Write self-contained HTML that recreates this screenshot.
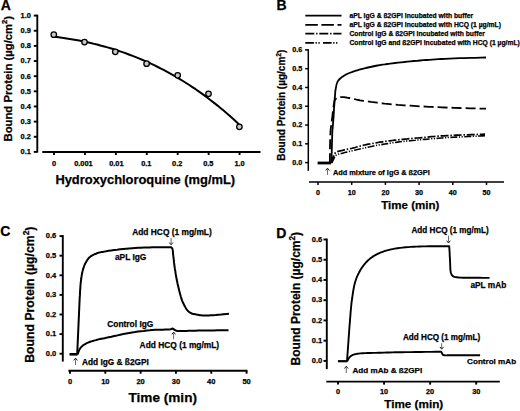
<!DOCTYPE html>
<html><head><meta charset="utf-8"><style>
html,body{margin:0;padding:0;background:#fff;}
svg{display:block;}
text{font-family:"Liberation Sans",sans-serif;font-weight:bold;fill:#000;stroke:#000;stroke-width:0.25px;}
</style></head><body>
<svg width="520" height="411" viewBox="0 0 520 411">
<rect width="520" height="411" fill="#fff"/>
<text x="0.7" y="9.5" font-size="14">A</text>
<line x1="37.3" y1="14.65" x2="37.3" y2="152.6" stroke="#000" stroke-width="1.9"/>
<line x1="33.8" y1="15.6" x2="37.3" y2="15.6" stroke="#000" stroke-width="1.9"/>
<text x="30.8" y="18.04" font-size="7.4" text-anchor="end">1.0</text>
<line x1="33.8" y1="30.74" x2="37.3" y2="30.74" stroke="#000" stroke-width="1.9"/>
<text x="30.8" y="33.19" font-size="7.4" text-anchor="end">0.9</text>
<line x1="33.8" y1="45.89" x2="37.3" y2="45.89" stroke="#000" stroke-width="1.9"/>
<text x="30.8" y="48.33" font-size="7.4" text-anchor="end">0.8</text>
<line x1="33.8" y1="61.03" x2="37.3" y2="61.03" stroke="#000" stroke-width="1.9"/>
<text x="30.8" y="63.48" font-size="7.4" text-anchor="end">0.7</text>
<line x1="33.8" y1="76.18" x2="37.3" y2="76.18" stroke="#000" stroke-width="1.9"/>
<text x="30.8" y="78.62" font-size="7.4" text-anchor="end">0.6</text>
<line x1="33.8" y1="91.32" x2="37.3" y2="91.32" stroke="#000" stroke-width="1.9"/>
<text x="30.8" y="93.76" font-size="7.4" text-anchor="end">0.5</text>
<line x1="33.8" y1="106.47" x2="37.3" y2="106.47" stroke="#000" stroke-width="1.9"/>
<text x="30.8" y="108.91" font-size="7.4" text-anchor="end">0.4</text>
<line x1="33.8" y1="121.61" x2="37.3" y2="121.61" stroke="#000" stroke-width="1.9"/>
<text x="30.8" y="124.05" font-size="7.4" text-anchor="end">0.3</text>
<line x1="33.8" y1="136.76" x2="37.3" y2="136.76" stroke="#000" stroke-width="1.9"/>
<text x="30.8" y="139.2" font-size="7.4" text-anchor="end">0.2</text>
<line x1="33.8" y1="151.9" x2="37.3" y2="151.9" stroke="#000" stroke-width="1.9"/>
<text x="30.8" y="154.34" font-size="7.4" text-anchor="end">0.1</text>
<line x1="42.3" y1="152" x2="260.5" y2="152" stroke="#000" stroke-width="1.9"/>
<line x1="54" y1="152" x2="54" y2="155" stroke="#000" stroke-width="1.9"/>
<text x="54" y="165.8" font-size="7.4" text-anchor="middle">0</text>
<line x1="84.93" y1="152" x2="84.93" y2="155" stroke="#000" stroke-width="1.9"/>
<text x="83.43" y="165.8" font-size="7.4" text-anchor="middle">0.001</text>
<line x1="115.86" y1="152" x2="115.86" y2="155" stroke="#000" stroke-width="1.9"/>
<text x="116.36" y="165.8" font-size="7.4" text-anchor="middle">0.01</text>
<line x1="146.79" y1="152" x2="146.79" y2="155" stroke="#000" stroke-width="1.9"/>
<text x="146.29" y="165.8" font-size="7.4" text-anchor="middle">0.1</text>
<line x1="177.72" y1="152" x2="177.72" y2="155" stroke="#000" stroke-width="1.9"/>
<text x="177.22" y="165.8" font-size="7.4" text-anchor="middle">0.2</text>
<line x1="208.65" y1="152" x2="208.65" y2="155" stroke="#000" stroke-width="1.9"/>
<text x="208.35" y="165.8" font-size="7.4" text-anchor="middle">0.5</text>
<line x1="239.58" y1="152" x2="239.58" y2="155" stroke="#000" stroke-width="1.9"/>
<text x="239.58" y="165.8" font-size="7.4" text-anchor="middle">1.0</text>
<text x="55.4" y="183.9" font-size="12.9">Hydroxychloroquine (mg/mL)</text>
<text transform="translate(11.7,141.5) rotate(-90)" font-size="11.3">Bound Protein (µg/cm<tspan font-size="7.68" dy="-4.75">2</tspan><tspan dy="4.75">)</tspan></text>
<path d="M54.0,36.6 57.1,37.0 60.3,37.4 63.4,37.9 66.6,38.4 69.7,38.9 72.9,39.4 76.0,40.0 79.2,40.6 82.3,41.2 85.5,41.9 88.6,42.6 91.7,43.3 94.9,44.1 98.0,44.8 101.2,45.7 104.3,46.5 107.5,47.4 110.6,48.3 113.8,49.3 116.9,50.3 120.1,51.4 123.2,52.4 126.4,53.5 129.5,54.7 132.6,55.9 135.8,57.1 138.9,58.4 142.1,59.7 145.2,61.1 148.4,62.5 151.5,63.9 154.7,65.4 157.8,67.0 161.0,68.6 164.1,70.2 167.2,71.9 170.4,73.6 173.5,75.4 176.7,77.2 179.8,79.1 183.0,81.0 186.1,83.0 189.3,85.0 192.4,87.1 195.6,89.2 198.7,91.4 201.9,93.6 205.0,95.9 208.1,98.3 211.3,100.7 214.4,103.1 217.6,105.6 220.7,108.2 223.9,110.8 227.0,113.5 230.2,116.3 233.3,119.1 236.5,122.0 239.6,124.9" fill="none" stroke="#000" stroke-width="2.0" stroke-linejoin="round"/>
<circle cx="53.8" cy="34.7" r="2.75" fill="#c8c8c8" stroke="#000" stroke-width="1.3"/>
<circle cx="84.5" cy="42.1" r="2.75" fill="#c8c8c8" stroke="#000" stroke-width="1.3"/>
<circle cx="115.3" cy="51.8" r="2.75" fill="#c8c8c8" stroke="#000" stroke-width="1.3"/>
<circle cx="146.6" cy="63.7" r="2.75" fill="#c8c8c8" stroke="#000" stroke-width="1.3"/>
<circle cx="177.7" cy="75.3" r="2.75" fill="#c8c8c8" stroke="#000" stroke-width="1.3"/>
<circle cx="208.5" cy="93.8" r="2.75" fill="#c8c8c8" stroke="#000" stroke-width="1.3"/>
<circle cx="239.4" cy="126.8" r="2.75" fill="#c8c8c8" stroke="#000" stroke-width="1.3"/>
<text x="276.6" y="9.6" font-size="14">B</text>
<line x1="305.3" y1="15.6" x2="341.5" y2="15.6" stroke="#000" stroke-width="1.8"/>
<text x="349.4" y="18.1" font-size="6.75">aPL IgG &amp; ß2GPI incubated with buffer</text>
<line x1="305.3" y1="24.8" x2="341.5" y2="24.8" stroke="#000" stroke-width="1.8" stroke-dasharray="12.5,3.6"/>
<text x="349.4" y="27.3" font-size="6.75">aPL IgG &amp; ß2GPI incubated with HCQ (1 µg/mL)</text>
<line x1="305.3" y1="33.7" x2="341.5" y2="33.7" stroke="#000" stroke-width="1.8" stroke-dasharray="9,1.8,1.4,1.8"/>
<text x="349.4" y="36.2" font-size="6.75">Control IgG &amp; ß2GPI incubated with buffer</text>
<line x1="305.3" y1="42.8" x2="338.6" y2="42.8" stroke="#000" stroke-width="1.8" stroke-dasharray="8.6,1.6,1.3,1.6,1.3,3.3"/>
<text x="349.4" y="45.3" font-size="6.75">Control IgG and ß2GPI incubated with HCQ (1 µg/mL)</text>
<line x1="308.3" y1="49.15" x2="308.3" y2="170.8" stroke="#000" stroke-width="1.5"/>
<line x1="305.1" y1="49.9" x2="308.3" y2="49.9" stroke="#000" stroke-width="1.5"/>
<text x="302.2" y="52.28" font-size="7.2" text-anchor="end">0.6</text>
<line x1="305.1" y1="68.68" x2="308.3" y2="68.68" stroke="#000" stroke-width="1.5"/>
<text x="302.2" y="71.06" font-size="7.2" text-anchor="end">0.5</text>
<line x1="305.1" y1="87.47" x2="308.3" y2="87.47" stroke="#000" stroke-width="1.5"/>
<text x="302.2" y="89.84" font-size="7.2" text-anchor="end">0.4</text>
<line x1="305.1" y1="106.25" x2="308.3" y2="106.25" stroke="#000" stroke-width="1.5"/>
<text x="302.2" y="108.63" font-size="7.2" text-anchor="end">0.3</text>
<line x1="305.1" y1="125.03" x2="308.3" y2="125.03" stroke="#000" stroke-width="1.5"/>
<text x="302.2" y="127.41" font-size="7.2" text-anchor="end">0.2</text>
<line x1="305.1" y1="143.82" x2="308.3" y2="143.82" stroke="#000" stroke-width="1.5"/>
<text x="302.2" y="146.19" font-size="7.2" text-anchor="end">0.1</text>
<line x1="305.1" y1="162.6" x2="308.3" y2="162.6" stroke="#000" stroke-width="1.5"/>
<text x="302.2" y="164.98" font-size="7.2" text-anchor="end">0.0</text>
<line x1="309" y1="181.9" x2="504" y2="181.9" stroke="#000" stroke-width="1.5"/>
<line x1="318" y1="181.9" x2="318" y2="184.9" stroke="#000" stroke-width="1.5"/>
<text x="318" y="195" font-size="7.2" text-anchor="middle">0</text>
<line x1="351.7" y1="181.9" x2="351.7" y2="184.9" stroke="#000" stroke-width="1.5"/>
<text x="351.7" y="195" font-size="7.2" text-anchor="middle">10</text>
<line x1="385.4" y1="181.9" x2="385.4" y2="184.9" stroke="#000" stroke-width="1.5"/>
<text x="385.4" y="195" font-size="7.2" text-anchor="middle">20</text>
<line x1="419.1" y1="181.9" x2="419.1" y2="184.9" stroke="#000" stroke-width="1.5"/>
<text x="419.1" y="195" font-size="7.2" text-anchor="middle">30</text>
<line x1="452.8" y1="181.9" x2="452.8" y2="184.9" stroke="#000" stroke-width="1.5"/>
<text x="452.8" y="195" font-size="7.2" text-anchor="middle">40</text>
<line x1="486.5" y1="181.9" x2="486.5" y2="184.9" stroke="#000" stroke-width="1.5"/>
<text x="486.5" y="195" font-size="7.2" text-anchor="middle">50</text>
<text x="381.3" y="209" font-size="11.5">Time (min)</text>
<text transform="translate(285,160.8) rotate(-90)" font-size="10.0">Bound Protein (µg/cm<tspan font-size="6.8" dy="-4.2">2</tspan><tspan dy="4.2">)</tspan></text>
<line x1="327.5" y1="174.8" x2="327.5" y2="169.35" stroke="#444" stroke-width="0.8"/>
<path d="M325.7,170.5 L327.5,168.2 L329.3,170.5" fill="none" stroke="#000" stroke-width="0.9"/>
<text x="333" y="174.9" font-size="7.35">Add mixture of IgG &amp; ß2GPI</text>
<line x1="317.6" y1="163" x2="331" y2="163" stroke="#000" stroke-width="2.8"/>
<path d="M331.4,163.2 332.3,132.0 332.4,130.4 332.6,128.8 332.7,127.2 332.9,125.7 333.0,124.1 333.1,122.4 333.3,120.8 333.4,119.0 333.6,116.7 333.7,114.2 333.9,111.6 334.0,108.9 334.2,106.3 334.4,103.7 334.5,101.3 334.7,99.0 334.8,97.4 335.0,95.8 335.1,94.3 335.2,92.9 335.3,91.5 335.5,90.1 335.7,88.8 335.9,87.6 336.1,86.7 336.2,85.9 336.4,85.1 336.6,84.4 336.8,83.6 337.0,82.9 337.3,82.3 337.6,81.6 338.0,81.0 338.3,80.5 338.8,80.0 339.2,79.5 339.7,79.0 340.2,78.5 340.8,78.1 341.3,77.6 341.9,77.1 342.6,76.6 343.3,76.2 344.0,75.7 344.7,75.3 345.5,74.8 346.3,74.4 347.1,74.0 348.2,73.5 349.4,73.0 350.6,72.5 351.8,72.1 353.1,71.6 354.5,71.2 355.9,70.7 357.3,70.3 359.3,69.7 361.3,69.2 363.5,68.6 365.8,68.0 368.0,67.5 370.4,67.0 372.7,66.5 375.0,66.0 377.4,65.5 379.8,65.1 382.3,64.7 384.8,64.4 387.3,64.0 389.8,63.7 392.4,63.3 395.0,63.0 398.0,62.6 401.0,62.3 404.2,62.0 407.3,61.6 410.5,61.3 413.7,61.0 416.9,60.8 420.0,60.5 423.1,60.2 426.1,60.0 429.1,59.8 432.1,59.6 435.2,59.4 438.3,59.2 441.6,59.0 445.0,58.8 449.6,58.6 454.5,58.4 459.6,58.2 464.9,58.1 470.2,57.9 475.5,57.8 480.8,57.7 486.0,57.5" fill="none" stroke="#000" stroke-width="1.8" stroke-linejoin="round"/>
<path d="M329.8,163.2 329.9,159.2 329.9,155.1 330.0,150.9 330.0,146.8 330.1,142.7 330.2,138.9 330.3,135.3 330.5,132.0 330.6,130.1 330.8,128.3 331.0,126.7 331.2,125.1 331.4,123.6 331.6,122.1 331.8,120.6 332.0,119.0 332.2,117.5 332.4,116.0 332.6,114.5 332.7,113.0 332.9,111.5 333.1,110.0 333.3,108.5 333.5,107.0 333.6,106.2 333.7,105.4 333.8,104.5 333.9,103.7 334.1,102.9 334.2,102.1 334.4,101.4 334.6,100.8 334.8,100.4 335.0,100.1 335.1,99.7 335.4,99.4 335.6,99.1 335.8,98.9 336.0,98.6 336.3,98.4 336.5,98.2 336.8,98.1 337.0,97.9 337.3,97.8 337.6,97.7 337.9,97.6 338.2,97.5 338.5,97.4 338.9,97.3 339.4,97.2 339.9,97.2 340.4,97.1 341.0,97.1 341.5,97.1 342.1,97.1 342.7,97.1 343.5,97.2 344.4,97.2 345.2,97.4 346.2,97.5 347.1,97.7 348.1,97.8 349.0,98.0 350.0,98.2 351.2,98.4 352.3,98.7 353.5,98.9 354.8,99.2 356.0,99.5 357.3,99.8 358.6,100.0 360.0,100.3 361.7,100.6 363.5,100.9 365.3,101.1 367.2,101.4 369.1,101.6 371.0,101.9 373.0,102.1 375.0,102.4 377.3,102.7 379.7,103.0 382.2,103.3 384.7,103.6 387.2,103.8 389.8,104.1 392.4,104.4 395.0,104.6 398.0,104.9 401.1,105.1 404.2,105.3 407.3,105.5 410.5,105.7 413.7,105.9 416.9,106.1 420.0,106.3 423.1,106.5 426.1,106.6 429.1,106.8 432.1,106.9 435.2,107.1 438.3,107.2 441.6,107.4 445.0,107.5 449.6,107.7 454.5,107.8 459.6,108.0 464.9,108.1 470.2,108.3 475.5,108.4 480.8,108.6 486.0,108.7" fill="none" stroke="#000" stroke-width="1.8" stroke-linejoin="round" stroke-dasharray="10,4"/>
<path d="M331.2,162.8 331.4,162.1 331.6,161.5 331.8,160.8 332.0,160.1 332.3,159.5 332.5,158.8 332.7,158.1 333.0,157.5 333.3,156.9 333.5,156.2 333.8,155.5 334.0,154.9 334.3,154.2 334.7,153.6 335.1,153.1 335.6,152.6 336.3,152.1 337.2,151.7 338.2,151.4 339.2,151.1 340.3,150.8 341.4,150.6 342.5,150.4 343.5,150.1 344.6,149.8 345.6,149.6 346.7,149.4 347.7,149.2 348.8,148.9 349.9,148.7 351.0,148.5 352.2,148.2 353.6,147.8 355.1,147.5 356.6,147.0 358.1,146.6 359.7,146.2 361.3,145.8 362.9,145.4 364.5,145.0 366.3,144.6 368.2,144.2 370.1,143.9 372.0,143.5 374.0,143.2 375.9,142.8 378.0,142.5 380.0,142.2 382.4,141.8 384.8,141.5 387.3,141.1 389.8,140.8 392.4,140.5 394.9,140.2 397.5,139.9 400.0,139.6 402.5,139.3 405.0,139.1 407.5,138.9 410.0,138.6 412.6,138.4 415.1,138.2 417.5,138.0 420.0,137.8 422.3,137.6 424.6,137.4 426.9,137.1 429.2,136.9 431.4,136.7 433.7,136.5 436.1,136.3 438.5,136.1 441.3,135.9 444.2,135.8 447.1,135.6 450.1,135.5 453.1,135.4 456.1,135.2 459.1,135.1 462.0,135.0 464.9,134.9 467.8,134.8 470.6,134.7 473.5,134.6 476.4,134.5 479.3,134.4 482.1,134.3 485.0,134.2" fill="none" stroke="#000" stroke-width="1.7" stroke-linejoin="round" stroke-dasharray="8,1.8,1.5,1.8"/>
<path d="M331.6,163.0 331.8,162.6 332.1,162.1 332.3,161.7 332.5,161.3 332.8,160.8 333.0,160.4 333.3,159.9 333.5,159.5 333.7,159.0 333.9,158.5 334.1,158.0 334.4,157.5 334.6,157.0 334.9,156.5 335.2,156.0 335.6,155.6 336.3,155.1 337.2,154.7 338.1,154.3 339.2,154.0 340.2,153.7 341.4,153.5 342.4,153.2 343.5,152.9 344.6,152.6 345.6,152.3 346.7,152.1 347.8,151.8 348.9,151.6 350.0,151.3 351.1,151.1 352.2,150.8 353.3,150.5 354.3,150.3 355.3,150.0 356.4,149.8 357.4,149.5 358.6,149.3 359.7,149.0 361.0,148.7 363.0,148.3 365.2,147.8 367.6,147.3 370.0,146.8 372.5,146.2 375.0,145.7 377.5,145.2 380.0,144.8 382.5,144.4 385.0,144.0 387.5,143.6 390.0,143.2 392.5,142.8 395.0,142.5 397.5,142.1 400.0,141.8 402.5,141.5 405.0,141.2 407.5,141.0 410.0,140.7 412.6,140.5 415.1,140.3 417.5,140.0 420.0,139.8 422.3,139.6 424.6,139.4 426.9,139.2 429.2,139.0 431.4,138.8 433.7,138.6 436.1,138.4 438.5,138.2 441.3,138.0 444.2,137.8 447.1,137.6 450.1,137.4 453.1,137.3 456.1,137.1 459.1,137.0 462.0,136.8 464.9,136.7 467.8,136.5 470.6,136.4 473.5,136.3 476.4,136.2 479.3,136.0 482.1,135.9 485.0,135.8" fill="none" stroke="#000" stroke-width="1.6" stroke-linejoin="round" stroke-dasharray="7,1.5,1.2,1.5,1.2,1.5"/>
<text x="0.3" y="236.2" font-size="14">C</text>
<line x1="62.8" y1="235.05" x2="62.8" y2="361.6" stroke="#000" stroke-width="1.9"/>
<line x1="59.5" y1="236.1" x2="62.8" y2="236.1" stroke="#000" stroke-width="1.9"/>
<text x="56.3" y="238.35" font-size="7.5" text-anchor="end">0.6</text>
<line x1="59.5" y1="255.7" x2="62.8" y2="255.7" stroke="#000" stroke-width="1.9"/>
<text x="56.3" y="257.95" font-size="7.5" text-anchor="end">0.5</text>
<line x1="59.5" y1="275.3" x2="62.8" y2="275.3" stroke="#000" stroke-width="1.9"/>
<text x="56.3" y="277.55" font-size="7.5" text-anchor="end">0.4</text>
<line x1="59.5" y1="294.9" x2="62.8" y2="294.9" stroke="#000" stroke-width="1.9"/>
<text x="56.3" y="297.15" font-size="7.5" text-anchor="end">0.3</text>
<line x1="59.5" y1="314.5" x2="62.8" y2="314.5" stroke="#000" stroke-width="1.9"/>
<text x="56.3" y="316.75" font-size="7.5" text-anchor="end">0.2</text>
<line x1="59.5" y1="334.1" x2="62.8" y2="334.1" stroke="#000" stroke-width="1.9"/>
<text x="56.3" y="336.35" font-size="7.5" text-anchor="end">0.1</text>
<line x1="59.5" y1="353.7" x2="62.8" y2="353.7" stroke="#000" stroke-width="1.9"/>
<text x="56.3" y="355.95" font-size="7.5" text-anchor="end">0.0</text>
<line x1="68.4" y1="370.7" x2="247.4" y2="370.7" stroke="#000" stroke-width="1.9"/>
<line x1="70" y1="370.7" x2="70" y2="373.7" stroke="#000" stroke-width="1.9"/>
<text x="70" y="383.8" font-size="7.5" text-anchor="middle">0</text>
<line x1="105.32" y1="370.7" x2="105.32" y2="373.7" stroke="#000" stroke-width="1.9"/>
<text x="105.32" y="383.8" font-size="7.5" text-anchor="middle">10</text>
<line x1="140.64" y1="370.7" x2="140.64" y2="373.7" stroke="#000" stroke-width="1.9"/>
<text x="140.64" y="383.8" font-size="7.5" text-anchor="middle">20</text>
<line x1="175.96" y1="370.7" x2="175.96" y2="373.7" stroke="#000" stroke-width="1.9"/>
<text x="175.96" y="383.8" font-size="7.5" text-anchor="middle">30</text>
<line x1="211.28" y1="370.7" x2="211.28" y2="373.7" stroke="#000" stroke-width="1.9"/>
<text x="211.28" y="383.8" font-size="7.5" text-anchor="middle">40</text>
<line x1="246.6" y1="370.7" x2="246.6" y2="373.7" stroke="#000" stroke-width="1.9"/>
<text x="246.6" y="383.8" font-size="7.5" text-anchor="middle">50</text>
<text x="128.5" y="402.3" font-size="13.6">Time (min)</text>
<text transform="translate(34.2,362.8) rotate(-90)" font-size="12.25">Bound Protein (µg/cm<tspan font-size="8.33" dy="-5.14">2</tspan><tspan dy="5.14">)</tspan></text>
<text x="132.2" y="235" font-size="8.4">Add HCQ (1 mg/mL)</text>
<line x1="171.1" y1="238" x2="171.1" y2="243.65" stroke="#444" stroke-width="0.8"/>
<path d="M169.3,242.5 L171.1,244.8 L172.9,242.5" fill="none" stroke="#000" stroke-width="0.9"/>
<text x="114.9" y="259.7" font-size="8.4">aPL IgG</text>
<text x="107.3" y="326.5" font-size="8.4">Control IgG</text>
<text x="139.6" y="347.9" font-size="8.4">Add HCQ (1 mg/mL)</text>
<line x1="173.6" y1="339.3" x2="173.6" y2="333.25" stroke="#444" stroke-width="0.8"/>
<path d="M171.8,334.4 L173.6,332.1 L175.4,334.4" fill="none" stroke="#000" stroke-width="0.9"/>
<line x1="75.5" y1="365" x2="75.5" y2="359.25" stroke="#444" stroke-width="0.8"/>
<path d="M73.7,360.4 L75.5,358.1 L77.3,360.4" fill="none" stroke="#000" stroke-width="0.9"/>
<text x="82" y="364.6" font-size="8.3">Add IgG &amp; ß2GPI</text>
<line x1="69.5" y1="354.3" x2="77.6" y2="354.3" stroke="#000" stroke-width="2.6"/>
<path d="M77.2,354.3 79.6,300.0 79.7,297.7 79.9,295.4 80.0,293.1 80.1,290.7 80.3,288.4 80.4,286.2 80.6,284.0 80.8,282.0 81.0,280.5 81.2,279.0 81.3,277.6 81.6,276.2 81.8,274.9 82.0,273.5 82.3,272.3 82.6,271.0 82.9,269.9 83.2,268.9 83.5,267.8 83.9,266.8 84.2,265.8 84.6,264.9 85.0,263.9 85.5,263.0 86.0,262.2 86.4,261.3 87.0,260.5 87.5,259.7 88.1,258.9 88.7,258.2 89.3,257.5 90.0,256.9 90.7,256.3 91.5,255.8 92.4,255.3 93.3,254.8 94.2,254.4 95.1,254.0 96.0,253.7 97.0,253.3 98.0,252.9 99.1,252.6 100.1,252.4 101.2,252.1 102.4,251.9 103.6,251.7 104.8,251.4 106.2,251.2 108.6,250.8 111.2,250.4 114.1,250.0 117.0,249.7 120.1,249.3 123.2,249.0 126.2,248.7 129.2,248.4 132.1,248.2 135.0,248.0 138.0,247.8 140.9,247.7 143.8,247.6 146.7,247.5 149.5,247.4 152.3,247.3 154.8,247.3 157.2,247.2 159.5,247.2 161.9,247.2 164.2,247.3 166.5,247.3 168.9,247.3 171.2,247.3 171.3,247.4 171.5,247.6 171.6,247.7 171.8,247.8 171.9,248.0 172.1,248.1 172.2,248.3 172.3,248.5 172.5,249.0 172.6,249.7 172.8,250.5 172.9,251.3 172.9,252.2 173.0,253.1 173.1,254.1 173.2,255.0 173.3,256.1 173.5,257.3 173.6,258.6 173.8,259.9 173.9,261.2 174.0,262.4 174.2,263.7 174.3,265.0 174.6,266.7 174.8,268.4 175.1,270.0 175.4,271.7 175.6,273.4 175.9,275.1 176.2,276.7 176.5,278.4 176.8,280.1 177.2,281.8 177.5,283.4 177.9,285.1 178.3,286.8 178.7,288.5 179.1,290.1 179.5,291.7 179.9,293.2 180.3,294.7 180.7,296.2 181.2,297.7 181.6,299.2 182.1,300.6 182.7,302.0 183.3,303.3 183.9,304.5 184.5,305.8 185.2,307.0 185.9,308.2 186.6,309.3 187.4,310.4 188.3,311.3 189.2,312.1 190.2,312.7 191.3,313.3 192.5,313.7 193.8,314.1 195.1,314.3 196.4,314.6 197.7,314.8 198.9,315.0 200.1,315.2 201.2,315.3 202.4,315.4 203.5,315.4 204.7,315.4 205.9,315.4 207.2,315.4 208.6,315.4 210.8,315.3 213.2,315.2 215.7,315.0 218.3,314.7 221.0,314.5 223.7,314.2 226.4,313.9 229.0,313.7" fill="none" stroke="#000" stroke-width="2.0" stroke-linejoin="round"/>
<path d="M77.6,354.3 77.9,353.6 78.2,352.8 78.4,352.1 78.7,351.3 79.0,350.6 79.3,349.9 79.6,349.2 80.0,348.6 80.3,348.1 80.7,347.7 81.0,347.3 81.4,346.9 81.8,346.5 82.2,346.1 82.6,345.8 83.1,345.4 83.6,345.0 84.2,344.6 84.8,344.3 85.4,343.9 86.0,343.6 86.7,343.2 87.3,342.9 88.0,342.6 88.8,342.3 89.5,342.0 90.3,341.7 91.1,341.4 91.9,341.2 92.8,340.9 93.7,340.7 94.6,340.4 95.9,340.1 97.2,339.7 98.5,339.4 99.9,339.1 101.4,338.8 102.9,338.5 104.5,338.2 106.2,337.8 108.7,337.3 111.4,336.7 114.2,336.0 117.2,335.4 120.2,334.7 123.3,334.1 126.3,333.5 129.2,333.0 132.1,332.5 135.0,332.1 138.0,331.6 140.9,331.2 143.8,330.9 146.7,330.5 149.5,330.3 152.3,330.0 154.8,329.8 157.4,329.7 160.1,329.7 162.7,329.7 165.1,329.6 167.3,329.6 169.1,329.5 170.5,329.3 170.9,329.2 171.2,329.1 171.5,329.0 171.7,328.8 171.9,328.7 172.1,328.6 172.4,328.6 172.6,328.6 172.8,328.7 173.1,328.8 173.3,328.9 173.5,329.1 173.8,329.3 174.0,329.5 174.2,329.6 174.5,329.8 174.8,330.0 175.1,330.1 175.3,330.3 175.6,330.4 175.9,330.6 176.3,330.7 176.6,330.8 177.0,330.9 177.8,331.0 178.6,331.1 179.5,331.1 180.6,331.1 181.6,331.0 182.7,331.0 183.8,330.9 185.0,330.9 186.6,330.9 188.3,330.8 190.1,330.8 191.9,330.8 193.8,330.7 195.8,330.7 197.9,330.6 200.0,330.6 203.1,330.5 206.5,330.5 210.0,330.4 213.7,330.4 217.4,330.3 221.2,330.3 224.9,330.2 228.5,330.2" fill="none" stroke="#000" stroke-width="2.0" stroke-linejoin="round"/>
<text x="276.3" y="237.5" font-size="14">D</text>
<line x1="326.8" y1="238.55" x2="326.8" y2="369.1" stroke="#000" stroke-width="1.9"/>
<line x1="323.5" y1="239.5" x2="326.8" y2="239.5" stroke="#000" stroke-width="1.9"/>
<text x="322.3" y="241.75" font-size="7.5" text-anchor="end">0.6</text>
<line x1="323.5" y1="259.73" x2="326.8" y2="259.73" stroke="#000" stroke-width="1.9"/>
<text x="322.3" y="261.98" font-size="7.5" text-anchor="end">0.5</text>
<line x1="323.5" y1="279.97" x2="326.8" y2="279.97" stroke="#000" stroke-width="1.9"/>
<text x="322.3" y="282.22" font-size="7.5" text-anchor="end">0.4</text>
<line x1="323.5" y1="300.2" x2="326.8" y2="300.2" stroke="#000" stroke-width="1.9"/>
<text x="322.3" y="302.45" font-size="7.5" text-anchor="end">0.3</text>
<line x1="323.5" y1="320.43" x2="326.8" y2="320.43" stroke="#000" stroke-width="1.9"/>
<text x="322.3" y="322.68" font-size="7.5" text-anchor="end">0.2</text>
<line x1="323.5" y1="340.67" x2="326.8" y2="340.67" stroke="#000" stroke-width="1.9"/>
<text x="322.3" y="342.92" font-size="7.5" text-anchor="end">0.1</text>
<line x1="323.5" y1="360.9" x2="326.8" y2="360.9" stroke="#000" stroke-width="1.9"/>
<text x="322.3" y="363.15" font-size="7.5" text-anchor="end">0.0</text>
<line x1="326.3" y1="381.6" x2="499.8" y2="381.6" stroke="#000" stroke-width="1.9"/>
<line x1="338" y1="381.6" x2="338" y2="384.6" stroke="#000" stroke-width="1.9"/>
<text x="338" y="394.3" font-size="7.3" text-anchor="middle">0</text>
<line x1="384.07" y1="381.6" x2="384.07" y2="384.6" stroke="#000" stroke-width="1.9"/>
<text x="384.07" y="394.3" font-size="7.3" text-anchor="middle">10</text>
<line x1="430.14" y1="381.6" x2="430.14" y2="384.6" stroke="#000" stroke-width="1.9"/>
<text x="430.14" y="394.3" font-size="7.3" text-anchor="middle">20</text>
<line x1="476.21" y1="381.6" x2="476.21" y2="384.6" stroke="#000" stroke-width="1.9"/>
<text x="476.21" y="394.3" font-size="7.3" text-anchor="middle">30</text>
<text x="384.3" y="408.3" font-size="11.7">Time (min)</text>
<text transform="translate(300.2,365.4) rotate(-90)" font-size="12.0">Bound Protein (µg/cm<tspan font-size="8.16" dy="-5.04">2</tspan><tspan dy="5.04">)</tspan></text>
<text x="411.5" y="233.4" font-size="8.15">Add HCQ (1 mg/mL)</text>
<line x1="448.5" y1="235.7" x2="448.5" y2="241.85" stroke="#444" stroke-width="0.8"/>
<path d="M446.7,240.7 L448.5,243 L450.3,240.7" fill="none" stroke="#000" stroke-width="0.9"/>
<text x="470.4" y="288.1" font-size="8.3">aPL mAb</text>
<text x="403" y="339.8" font-size="8.15">Add HCQ (1 mg/mL)</text>
<line x1="441.7" y1="343.2" x2="441.7" y2="348.05" stroke="#444" stroke-width="0.8"/>
<path d="M439.9,346.9 L441.7,349.2 L443.5,346.9" fill="none" stroke="#000" stroke-width="0.9"/>
<text x="467.1" y="364.2" font-size="8.1">Control mAb</text>
<line x1="346.3" y1="373" x2="346.3" y2="367.35" stroke="#444" stroke-width="0.8"/>
<path d="M344.5,368.5 L346.3,366.2 L348.1,368.5" fill="none" stroke="#000" stroke-width="0.9"/>
<text x="352.5" y="372.5" font-size="8.1">Add mAb &amp; ß2GPI</text>
<line x1="338" y1="361.2" x2="347.4" y2="361.2" stroke="#000" stroke-width="2.2"/>
<path d="M347.0,361.2 349.6,325.0 349.9,321.8 350.1,318.7 350.4,315.5 350.6,312.3 350.9,309.1 351.2,306.0 351.5,302.9 351.9,300.0 352.3,297.5 352.6,295.0 353.0,292.5 353.4,290.0 353.8,287.7 354.3,285.4 354.8,283.2 355.4,281.2 355.9,279.7 356.4,278.3 356.9,277.0 357.5,275.7 358.0,274.5 358.7,273.2 359.3,272.0 360.0,270.8 360.7,269.6 361.5,268.3 362.3,267.1 363.2,265.9 364.0,264.8 365.0,263.6 365.9,262.5 366.9,261.5 367.9,260.5 369.0,259.6 370.1,258.6 371.2,257.8 372.4,256.9 373.6,256.1 374.9,255.3 376.2,254.6 377.7,253.8 379.3,253.1 381.0,252.4 382.7,251.8 384.4,251.2 386.2,250.6 388.1,250.1 390.0,249.6 392.4,249.1 394.8,248.6 397.4,248.2 400.0,247.9 402.7,247.6 405.4,247.3 408.1,247.1 410.8,246.9 413.7,246.7 416.6,246.6 419.6,246.5 422.6,246.4 425.5,246.4 428.4,246.3 431.2,246.3 433.9,246.3 436.0,246.3 437.9,246.3 439.9,246.3 441.7,246.3 443.6,246.3 445.4,246.3 447.3,246.3 449.2,246.3 449.3,247.8 449.4,249.2 449.5,250.7 449.6,252.1 449.7,253.6 449.7,255.1 449.8,256.5 449.9,258.0 450.0,259.5 450.0,261.0 450.1,262.5 450.2,264.0 450.2,265.5 450.3,267.0 450.3,268.5 450.4,270.0 450.5,270.5 450.6,270.9 450.7,271.4 450.7,271.9 450.8,272.3 450.9,272.8 451.1,273.2 451.2,273.6 451.3,273.9 451.5,274.3 451.6,274.6 451.8,274.9 452.0,275.2 452.2,275.4 452.4,275.7 452.6,275.9 452.8,276.1 453.1,276.3 453.4,276.4 453.7,276.6 454.0,276.7 454.3,276.8 454.6,276.9 455.0,277.0 455.6,277.1 456.2,277.2 456.9,277.3 457.7,277.4 458.4,277.5 459.3,277.5 460.1,277.6 461.0,277.6 462.5,277.7 464.1,277.7 465.8,277.7 467.6,277.8 469.5,277.8 471.3,277.8 473.2,277.8 475.0,277.8 476.8,277.8 478.6,277.8 480.4,277.8 482.2,277.9 484.1,277.9 485.9,277.9 487.7,277.9 489.5,277.9" fill="none" stroke="#000" stroke-width="1.9" stroke-linejoin="round"/>
<path d="M347.2,361.2 347.5,360.7 347.7,360.3 347.9,359.8 348.2,359.3 348.4,358.9 348.7,358.4 349.0,358.0 349.3,357.6 349.6,357.2 349.9,356.9 350.3,356.6 350.6,356.3 351.0,356.0 351.4,355.7 351.8,355.4 352.3,355.2 352.9,354.9 353.6,354.7 354.3,354.4 355.0,354.2 355.8,354.1 356.6,353.9 357.5,353.7 358.5,353.6 360.4,353.4 362.7,353.2 365.1,353.1 367.7,353.0 370.4,353.0 373.1,352.9 375.9,352.9 378.5,352.8 381.3,352.7 384.0,352.6 386.7,352.5 389.5,352.5 392.3,352.4 395.3,352.3 398.3,352.3 401.5,352.2 405.9,352.1 410.7,352.1 415.6,352.0 420.7,352.0 425.8,351.9 431.0,351.9 436.2,351.8 441.2,351.8 442.8,354.8 443.0,354.9 443.2,354.9 443.4,355.0 443.6,355.1 443.9,355.1 444.1,355.2 444.3,355.3 444.6,355.3 445.1,355.4 445.6,355.4 446.2,355.4 446.8,355.4 447.5,355.3 448.3,355.3 449.1,355.3 450.0,355.3 452.6,355.3 455.8,355.3 459.5,355.3 463.5,355.3 467.7,355.3 472.0,355.3 476.2,355.3 480.1,355.3" fill="none" stroke="#000" stroke-width="1.9" stroke-linejoin="round"/>
</svg>
</body></html>
